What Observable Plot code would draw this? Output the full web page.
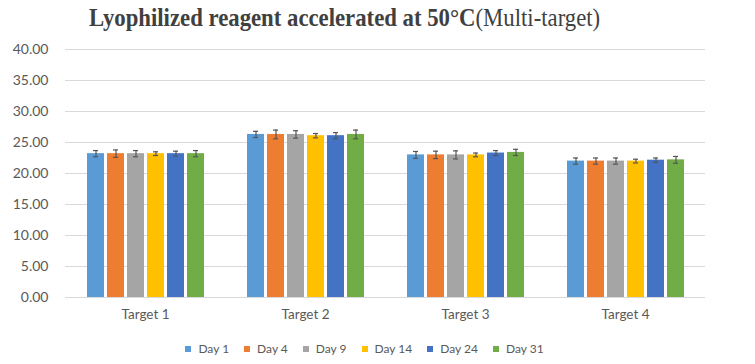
<!DOCTYPE html>
<html><head><meta charset="utf-8">
<script src="https://cdn.jsdelivr.net/npm/d3@7"></script>
<script src="https://cdn.jsdelivr.net/npm/@observablehq/plot@0.6"></script>
<style>
body{margin:0;background:#fff;width:755px;height:364px;overflow:hidden;font-family:Lato,"Noto Sans",sans-serif;}
#title{height:36px;position:relative;}
#title span.t{position:absolute;left:89px;top:4px;font-family:"Liberation Serif",serif;font-size:25px;color:#404040;white-space:nowrap;transform:scaleX(0.91);transform-origin:left top;}
#legend{display:flex;justify-content:center;gap:15px;font-size:12px;color:#595959;margin-top:14px;padding-right:26px;}
#legend .it{display:flex;align-items:center;gap:7px;}
#legend .sw{width:6px;height:6px;display:inline-block;}
</style></head><body>
<div id="title"><span class="t"><b>Lyophilized reagent accelerated at 50°C</b>(Multi-target)</span></div>
<div id="chart"></div>
<div id="legend"></div>
<script>
const targets = ["Target 1","Target 2","Target 3","Target 4"];
const days = ["Day 1","Day 4","Day 9","Day 14","Day 24","Day 31"];
const colors = ["#5B9BD5","#ED7D31","#A5A5A5","#FFC000","#4472C4","#70AD47"];
const yTicks = [0,5,10,15,20,25,30,35,40];
// values per target, in day order
const target1 = [23.2,23.2,23.2,23.2,23.2,23.2];
const target2 = [26.3,26.3,26.3,26.1,26.1,26.3];
const target3 = [23.0,23.0,23.0,23.0,23.3,23.4];
const target4 = [22.0,22.0,22.0,22.0,22.15,22.2];
// error (± SD)
const err1 = [0.5,0.6,0.5,0.3,0.4,0.5];
const err2 = [0.5,0.7,0.6,0.35,0.5,0.7];
const err3 = [0.55,0.6,0.65,0.3,0.4,0.5];
const err4 = [0.5,0.5,0.5,0.3,0.35,0.55];

const vals = [target1,target2,target3,target4];
const errs = [err1,err2,err3,err4];
const data = [];
targets.forEach((t,i)=>days.forEach((d,j)=>data.push({target:t, day:d, value:vals[i][j], err:errs[i][j]})));

const plot = Plot.plot({
  width: 755, height: 291,
  marginLeft: 65, marginRight: 50, marginTop: 13, marginBottom: 30,
  style: {fontFamily: "Lato, 'Noto Sans', sans-serif", fontSize: "12px", color: "#595959"},
  fx: {domain: targets, padding: 0, label: null},
  x: {domain: days, paddingInner: 0.16, paddingOuter: 0.89, axis: null},
  y: {domain: [0,40], ticks: yTicks, label: null},
  color: {domain: days, range: colors},
  marks: [
    Plot.ruleY(yTicks, {stroke: "#d9d9d9", strokeWidth: 1}),
    Plot.axisY({ticks: yTicks, tickFormat: d3.format(".2f"), tickSize: 0, tickPadding: 17, fill: "#595959", fontSize: 14, label: null}),
    Plot.axisFx({anchor: "bottom", tickSize: 0, tickPadding: 12, fill: "#595959", fontSize: 13.5, label: null}),
    Plot.barY(data, {fx: "target", x: "day", y: "value", fill: "day"}),
    Plot.ruleX(data, {fx: "target", x: "day", y1: d=>d.value-d.err, y2: d=>d.value+d.err, stroke: "#555", strokeWidth: 1.2}),
    Plot.tickY(data, {fx: "target", x: "day", y: d=>d.value-d.err, stroke: "#555", strokeWidth: 1.2, insetLeft: 6, insetRight: 6}),
    Plot.tickY(data, {fx: "target", x: "day", y: d=>d.value+d.err, stroke: "#555", strokeWidth: 1.2, insetLeft: 6, insetRight: 6})
  ]
});
document.getElementById("chart").appendChild(plot);

const leg = document.getElementById("legend");
days.forEach((d,i)=>{
  const it = document.createElement("div"); it.className="it";
  const sw = document.createElement("span"); sw.className="sw"; sw.style.background=colors[i];
  const tx = document.createElement("span"); tx.textContent=d;
  it.appendChild(sw); it.appendChild(tx); leg.appendChild(it);
});
</script>
</body></html>
